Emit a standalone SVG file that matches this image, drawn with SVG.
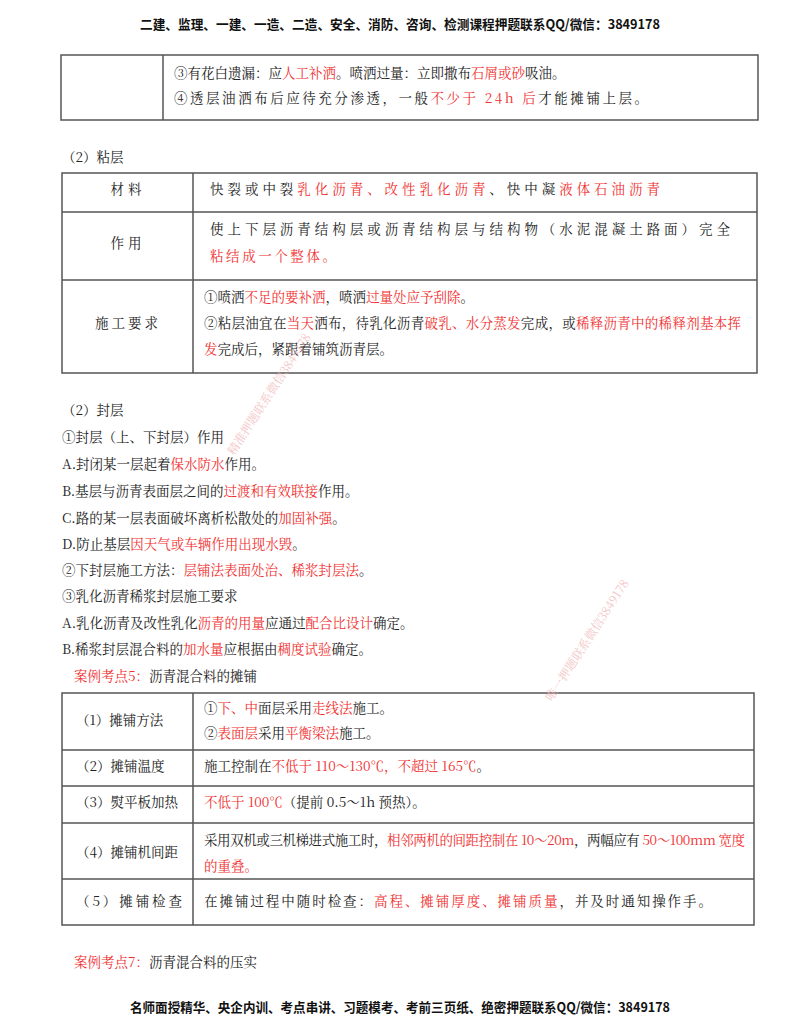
<svg xmlns="http://www.w3.org/2000/svg" width="800" height="1035" viewBox="0 0 800 1035">
<style>
text{font-family:"Noto Serif CJK SC","Noto Sans CJK SC","Liberation Serif",serif;font-size:13.5px;fill:#222}
.r{fill:#f03030}
.h{font-family:"Noto Sans CJK SC","Liberation Sans",sans-serif;font-weight:bold;font-size:13px;fill:#111}
.b{fill:none;stroke:#555;stroke-width:1.5}
.w{font-size:12px;fill:#f0b8b8;opacity:.8}
</style>
<rect width="800" height="1035" fill="#fff"/>
<text class="h" x="400" y="29" text-anchor="middle" textLength="520" lengthAdjust="spacingAndGlyphs">二建、监理、一建、一造、二造、安全、消防、咨询、检测课程押题联系QQ/微信：3849178</text>

<g id="table1">
<rect class="b" x="61" y="55" width="697" height="65"/>
<line class="b" x1="163" y1="55" x2="163" y2="120"/>
<text x="174" y="78">③有花白遗漏：应<tspan class="r">人工补洒</tspan>。喷洒过量：立即撒布<tspan class="r">石屑或砂</tspan>吸油。</text>
<text x="174" y="103" textLength="474" lengthAdjust="spacing">④透层油洒布后应待充分渗透，一般<tspan class="r">不少于 24h 后</tspan>才能摊铺上层。</text>
</g>

<text x="62" y="162">（2）粘层</text>
<g id="table2">
<rect class="b" x="62" y="173" width="695" height="200"/>
<line class="b" x1="62" y1="212" x2="757" y2="212"/>
<line class="b" x1="62" y1="280" x2="757" y2="280"/>
<line class="b" x1="193" y1="173" x2="193" y2="373"/>
<text x="128" y="194" text-anchor="middle" letter-spacing="4">材料</text>
<text x="210" y="194" textLength="450" lengthAdjust="spacing">快裂或中裂<tspan class="r">乳化沥青、改性乳化沥青</tspan>、快中凝<tspan class="r">液体石油沥青</tspan></text>
<text x="128" y="248" text-anchor="middle" letter-spacing="4">作用</text>
<text x="210" y="234" textLength="520" lengthAdjust="spacing">使上下层沥青结构层或沥青结构层与结构物（水泥混凝土路面）完全</text>
<text class="r" x="210" y="261" textLength="126" lengthAdjust="spacing">粘结成一个整体。</text>
<text x="128" y="328" text-anchor="middle" letter-spacing="3">施工要求</text>
<text x="204" y="302">①喷洒<tspan class="r">不足的要补洒</tspan>，喷洒<tspan class="r">过量处应予刮除</tspan>。</text>
<text x="204" y="328" textLength="537" lengthAdjust="spacing">②粘层油宜在<tspan class="r">当天</tspan>洒布，待乳化沥青<tspan class="r">破乳、水分蒸发</tspan>完成，或<tspan class="r">稀释沥青中的稀释剂基本挥</tspan></text>
<text x="204" y="354"><tspan class="r">发</tspan>完成后，紧跟着铺筑沥青层。</text>
</g>

<text x="62" y="415">（2）封层</text>
<text x="62" y="442">①封层（上、下封层）作用</text>
<text x="62" y="469">A.封闭某一层起着<tspan class="r">保水防水</tspan>作用。</text>
<text x="62" y="496">B.基层与沥青表面层之间的<tspan class="r">过渡和有效联接</tspan>作用。</text>
<text x="62" y="523">C.路的某一层表面破坏离析松散处的<tspan class="r">加固补强</tspan>。</text>
<text x="62" y="549">D.防止基层<tspan class="r">因天气或车辆作用出现水毁</tspan>。</text>
<text x="62" y="575">②下封层施工方法：<tspan class="r">层铺法表面处治、稀浆封层法</tspan>。</text>
<text x="62" y="601">③乳化沥青稀浆封层施工要求</text>
<text x="62" y="628">A.乳化沥青及改性乳化<tspan class="r">沥青的用量</tspan>应通过<tspan class="r">配合比设计</tspan>确定。</text>
<text x="62" y="654">B.稀浆封层混合料的<tspan class="r">加水量</tspan>应根据由<tspan class="r">稠度试验</tspan>确定。</text>
<text x="74" y="681"><tspan class="r">案例考点5：</tspan>沥青混合料的摊铺</text>

<g id="table3">
<rect class="b" x="62" y="693" width="692" height="232"/>
<line class="b" x1="62" y1="750" x2="754" y2="750"/>
<line class="b" x1="62" y1="786" x2="754" y2="786"/>
<line class="b" x1="62" y1="823" x2="754" y2="823"/>
<line class="b" x1="62" y1="879" x2="754" y2="879"/>
<line class="b" x1="193" y1="693" x2="193" y2="925"/>
<text x="76" y="725">（1）摊铺方法</text>
<text x="204" y="713">①<tspan class="r">下、中</tspan>面层采用<tspan class="r">走线法</tspan>施工。</text>
<text x="204" y="738">②<tspan class="r">表面层</tspan>采用<tspan class="r">平衡梁法</tspan>施工。</text>
<text x="76" y="771">（2）摊铺温度</text>
<text x="204" y="771">施工控制在<tspan class="r">不低于 110～130℃，不超过 165℃</tspan>。</text>
<text x="76" y="807">（3）熨平板加热</text>
<text x="204" y="807"><tspan class="r">不低于 100℃</tspan>（提前 0.5～1h 预热）。</text>
<text x="76" y="857">（4）摊铺机间距</text>
<text x="204" y="845" textLength="541" lengthAdjust="spacing">采用双机或三机梯进式施工时，<tspan class="r">相邻两机的间距控制在 10～20m</tspan>，两幅应有 <tspan class="r">50～100mm 宽度</tspan></text>
<text class="r" x="204" y="871">的重叠。</text>
<text x="76" y="906" textLength="106" lengthAdjust="spacing">（5）摊铺检查</text>
<text x="204" y="906" textLength="508" lengthAdjust="spacing">在摊铺过程中随时检查：<tspan class="r">高程、摊铺厚度、摊铺质量</tspan>，并及时通知操作手。</text>
</g>

<text x="74" y="967"><tspan class="r">案例考点7：</tspan>沥青混合料的压实</text>
<text class="h" x="400" y="1012" text-anchor="middle" textLength="540" lengthAdjust="spacingAndGlyphs">名师面授精华、央企内训、考点串讲、习题模考、考前三页纸、绝密押题联系QQ/微信：3849178</text>

<text class="w" transform="translate(234,456) rotate(-57)">精准押题联系微信3849178</text>
<text class="w" transform="translate(552,702) rotate(-57)">唯一押题联系微信3849178</text>
</svg>
